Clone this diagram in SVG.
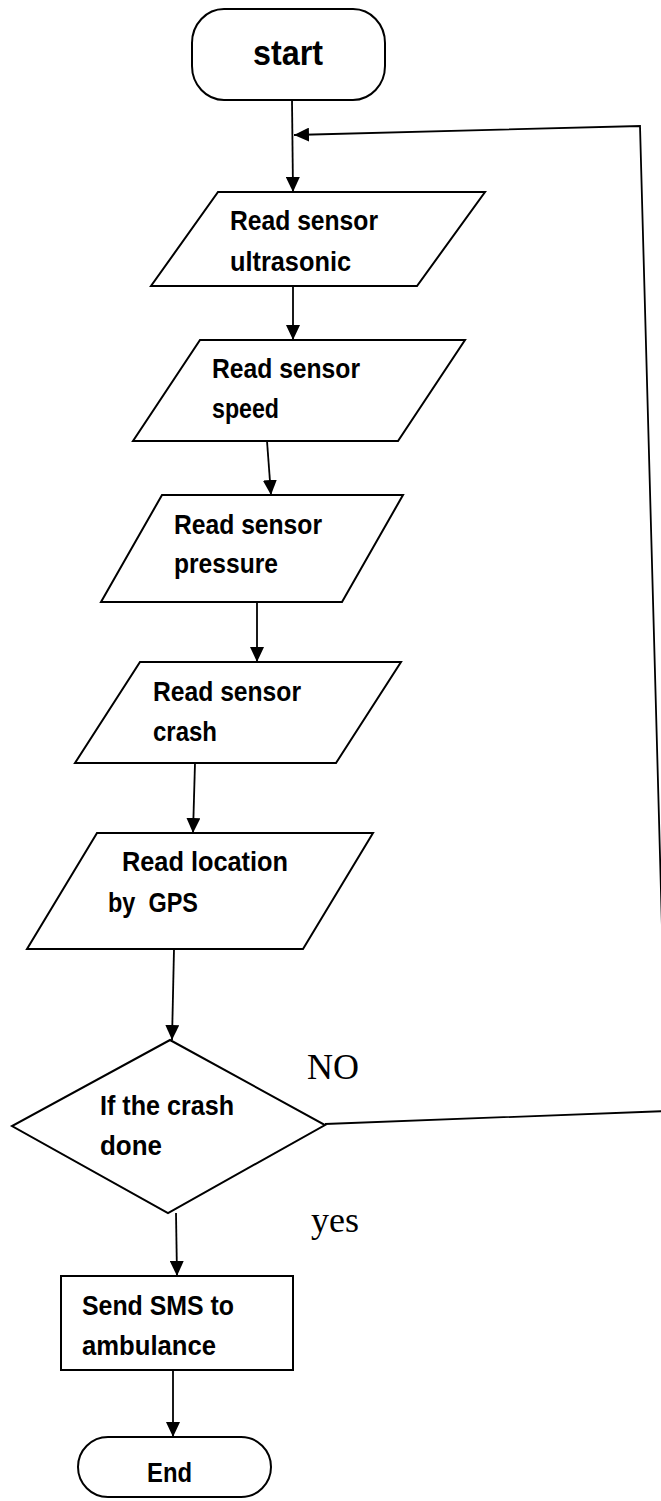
<svg xmlns="http://www.w3.org/2000/svg" width="661" height="1501" viewBox="0 0 661 1501">
<style>
.shape{fill:#fff;stroke:#000;stroke-width:2}
.conn{fill:none;stroke:#000;stroke-width:1.8}
.lbl{font-family:"Liberation Sans",Arial,sans-serif;font-weight:bold;font-size:28px;fill:#000}
.big{font-size:35px}
.yn{font-family:"Liberation Serif","Times New Roman",serif;font-size:36px;fill:#000}
</style>
<defs>
<marker id="arr" markerUnits="userSpaceOnUse" markerWidth="15" markerHeight="14" refX="15" refY="7" orient="auto">
<path d="M0,0 L15,7 L0,14 z" fill="#000"/>
</marker>
</defs>
<rect width="661" height="1501" fill="#fff"/>
<g id="connectors">
<line class="conn" x1="292" y1="100" x2="293" y2="192" marker-end="url(#arr)"/>
<polyline class="conn" points="325,1124 667,1111 640,126 294,135" marker-end="url(#arr)"/>
<line class="conn" x1="293" y1="286" x2="293" y2="340" marker-end="url(#arr)"/>
<line class="conn" x1="267" y1="441" x2="271" y2="495" marker-end="url(#arr)"/>
<line class="conn" x1="257" y1="602" x2="257" y2="662" marker-end="url(#arr)"/>
<line class="conn" x1="195" y1="763" x2="193" y2="833" marker-end="url(#arr)"/>
<line class="conn" x1="174" y1="949" x2="172" y2="1040" marker-end="url(#arr)"/>
<line class="conn" x1="176" y1="1213" x2="177" y2="1276" marker-end="url(#arr)"/>
<line class="conn" x1="173" y1="1370" x2="173" y2="1437" marker-end="url(#arr)"/>
<text class="yn" x="307" y="1079">NO</text>
<text class="yn" x="311" y="1232">yes</text>
</g>
<g id="start">
<rect class="shape" x="192" y="9" width="193" height="91" rx="32" ry="34"/>
<text class="lbl big" x="253" y="65" textLength="70" lengthAdjust="spacingAndGlyphs">start</text>
</g>
<g id="read-ultrasonic">
<polygon class="shape" points="218,192 485,192 417,286 151,286"/>
<text class="lbl" x="230" y="230" textLength="148" lengthAdjust="spacingAndGlyphs">Read sensor</text>
<text class="lbl" x="230" y="271" textLength="121" lengthAdjust="spacingAndGlyphs">ultrasonic</text>
</g>
<g id="read-speed">
<polygon class="shape" points="200,340 465,340 398,441 133,441"/>
<text class="lbl" x="212" y="378" textLength="148" lengthAdjust="spacingAndGlyphs">Read sensor</text>
<text class="lbl" x="212" y="418" textLength="67" lengthAdjust="spacingAndGlyphs">speed</text>
</g>
<g id="read-pressure">
<polygon class="shape" points="162,495 403,495 342,602 101,602"/>
<text class="lbl" x="174" y="534" textLength="148" lengthAdjust="spacingAndGlyphs">Read sensor</text>
<text class="lbl" x="174" y="573" textLength="104" lengthAdjust="spacingAndGlyphs">pressure</text>
</g>
<g id="read-crash">
<polygon class="shape" points="140,662 401,662 336,763 75,763"/>
<text class="lbl" x="153" y="701" textLength="148" lengthAdjust="spacingAndGlyphs">Read sensor</text>
<text class="lbl" x="153" y="741" textLength="64" lengthAdjust="spacingAndGlyphs">crash</text>
</g>
<g id="read-gps">
<polygon class="shape" points="97,833 373,833 303,949 27,949"/>
<text class="lbl" x="122" y="871" textLength="166" lengthAdjust="spacingAndGlyphs">Read location</text>
<text class="lbl" x="108" y="912" textLength="90" lengthAdjust="spacingAndGlyphs" xml:space="preserve">by  GPS</text>
</g>
<g id="decision">
<polygon class="shape" points="170,1040 325,1125 168,1213 12,1126"/>
<text class="lbl" x="100" y="1115" textLength="134" lengthAdjust="spacingAndGlyphs">If the crash</text>
<text class="lbl" x="100" y="1155" textLength="62" lengthAdjust="spacingAndGlyphs">done</text>
</g>
<g id="send-sms">
<rect class="shape" x="61" y="1276" width="232" height="94"/>
<text class="lbl" x="82" y="1315" textLength="152" lengthAdjust="spacingAndGlyphs">Send SMS to</text>
<text class="lbl" x="82" y="1355" textLength="134" lengthAdjust="spacingAndGlyphs">ambulance</text>
</g>
<g id="end">
<rect class="shape" x="78" y="1437" width="193" height="60" rx="30" ry="30"/>
<text class="lbl" x="147" y="1482" textLength="45" lengthAdjust="spacingAndGlyphs">End</text>
</g>
</svg>
